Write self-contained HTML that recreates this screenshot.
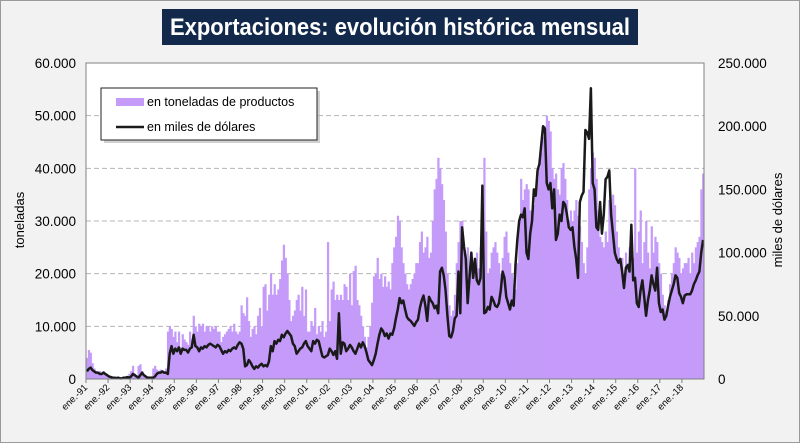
<!DOCTYPE html>
<html><head><meta charset="utf-8">
<style>
html,body{margin:0;padding:0;background:#f2f2f2;}
svg{display:block;font-family:"Liberation Sans",sans-serif;}
</style></head>
<body>
<svg id="chart" width="800" height="443" viewBox="0 0 800 443">
<rect x="0.5" y="0.5" width="799" height="442" fill="#f2f2f2" stroke="#9a9a9a"/>
<rect x="162" y="9" width="476" height="36" fill="#13294b"/>
<text x="400" y="35" text-anchor="middle" fill="#fff" font-size="24" font-weight="bold" textLength="460" lengthAdjust="spacingAndGlyphs">Exportaciones: evolución histórica mensual</text>
<rect x="86" y="63" width="618" height="316" fill="#fff"/>
<g id="grid"></g>
<g id="bars"></g>
<path id="line" fill="none" stroke="#1a1a1a" stroke-width="2.5" stroke-linejoin="round"/>
<rect x="86" y="63" width="618" height="316" fill="none" stroke="#808080"/>
<g id="axes"></g>
<text transform="translate(24,220) rotate(-90)" text-anchor="middle" font-size="13">toneladas</text>
<text transform="translate(782,220) rotate(-90)" text-anchor="middle" font-size="13">miles de dólares</text>
<g>
<rect x="104" y="91" width="216" height="52" fill="#b0b0b0" opacity="0.6"/>
<rect x="101" y="88" width="216" height="52" fill="#fff" stroke="#222"/>
<rect x="116" y="98" width="28" height="8" fill="#c59bfa"/>
<text x="147" y="106" font-size="12.5">en toneladas de productos</text>
<line x1="116" y1="127" x2="144" y2="127" stroke="#1a1a1a" stroke-width="2.5"/>
<text x="147" y="131" font-size="12.5">en miles de dólares</text>
</g>
</svg>
<script>
const startYear = 1991;
const tons = [
4,5.5,5,3,2,1.5,1,1.5,1,1.5,1,0.5,
0.5,0.3,0.3,0.3,0.5,0.3,0.3,0.2,0.5,0.3,0.5,1,
1.5,2.5,1,0.5,2.5,2.8,1.5,0.8,0.5,0.5,0.3,0.5,
2,2.5,1.8,1.5,1.8,1.5,1.5,2,9,10,9.5,8,
9,7,9,6,8.5,7.5,7,6.5,9,7.5,12,10,
9,10.5,10,10.5,9,10,10,9,10,9.5,10,9,
9,7,8,8.5,9,9.5,10,9,10.5,9,8.5,9,
14,12.5,12,15.5,11,8,9.5,10,8.5,12,13.5,10,
17.5,18,13,16,20,16,18,16,17,19,22.5,25.5,
23,20,15,11,12,13,15,16,13,17.5,12,17,
9,9,11,10,13.5,8.5,10,9,11,8,9,26,
11,17,18.5,15,16,15,16,15,18,17.5,15,20,
14,20.5,21.5,15,14,12,10,8,6,8,10,14.5,
19.5,20,23,19,20,17.5,19.5,17.5,18.5,17,22,25,
27,31,30,25,22,20,18,17,18,19,20,22,
22,26,28,24,25,27,23,24,30,36,38,42,
40,37,34,28,20,14,12,13,16,22,26,30,
30,24,22,25,21,23,20,22,24,21,25,30,
42,28,20,21,24,25,26,24,22,20,23,27,
28,24,22,20,18,17,22,30,38,34,36,37,
36,32,30,33,35,38,40,43,46,48,50,49,
47,40,38,39,36,35,40,41,38,34,30,32,
30,32,34,31,29,26,22,20,25,36,40,43,
42,38,32,27,26,25,28,26,34,30,35,33,
28,25,22,23,20,24,22,25,27,23,40,24,
28,32,22,26,30,24,21,29,24,27,26,22,
20,16,14,13,15,18,20,22,25,24,23,20,
21,22,22,23,20,24,22,25,26,27,36,39
].map(v=>v*1000);
const dollars = [
6,8,9,7,6,5,5,4,4,5,4,3,
2,1.5,1,1,0.5,1,0.5,0.5,1,1,1.5,1,
2,4,3,2,1,3,5,3,2,1,1,1,
1,2,4,5,5,6,5,5,4,20,26,20,
24,22,25,20,24,23,23,21,24,25,35,26,
25,22,25,24,26,25,27,28,27,26,25,27,
26,23,20,22,21,23,22,24,25,24,27,29,
28,24,10,11,15,13,10,8,10,9,11,12,
10,11,10,14,26,22,30,28,31,30,35,33,
36,38,36,34,28,26,20,22,24,25,28,30,
26,24,22,30,28,31,30,24,18,17,18,19,
24,22,19,22,16,52,20,29,28,22,24,27,
25,22,20,24,28,25,29,26,21,15,13,11,
15,20,28,35,40,38,34,36,32,36,35,40,
48,55,64,60,62,55,49,47,46,44,42,45,
47,56,62,66,58,46,65,62,60,56,58,52,
85,88,82,70,50,34,33,38,48,50,85,52,
120,105,95,60,80,100,80,95,78,75,80,153,
52,53,57,55,65,62,58,57,60,70,85,80,
65,60,55,62,58,90,110,125,130,128,135,100,
95,115,125,150,145,165,170,185,200,198,155,150,
155,135,150,110,115,130,125,140,138,130,120,118,
120,105,95,80,140,145,148,197,195,190,230,155,
150,120,118,140,115,130,158,160,165,130,115,100,
95,92,95,85,72,88,90,85,122,78,80,60,
57,70,78,65,50,62,70,82,75,70,88,60,
53,55,47,50,58,65,70,75,82,80,68,65,
60,66,67,67,67,70,75,78,82,85,100,110
].map(v=>v*1000);
const leftTicks = [0,10000,20000,30000,40000,50000,60000];
const leftTickLabels = ["0","10.000","20.000","30.000","40.000","50.000","60.000"];
const rightTicks = [0,50000,100000,150000,200000,250000];
const rightTickLabels = ["0","50.000","100.000","150.000","200.000","250.000"];
const yearLabels = ["ene.-91","ene.-92","ene.-93","ene.-94","ene.-95","ene.-96","ene.-97","ene.-98","ene.-99","ene.-00","ene.-01","ene.-02","ene.-03","ene.-04","ene.-05","ene.-06","ene.-07","ene.-08","ene.-09","ene.-10","ene.-11","ene.-12","ene.-13","ene.-14","ene.-15","ene.-16","ene.-17","ene.-18"];

const NS="http://www.w3.org/2000/svg";
const X0=86, X1=704, Y0=379, Y1=63;
const nMonths = tons.length;
const bw=(X1-X0)/nMonths;
const xScale = i => X0 + i*bw;
const yL = v => Y0 - v/60000*(Y0-Y1);
const yR = v => Y0 - v/250000*(Y0-Y1);
function mk(tag, attrs, parent){const e=document.createElementNS(NS,tag);for(const k in attrs)e.setAttribute(k,attrs[k]);parent.appendChild(e);return e;}
const grid=document.getElementById('grid'), bars=document.getElementById('bars'), axes=document.getElementById('axes');
leftTicks.forEach((t,i)=>{
  if(t>0 && t<60000){const g=mk('line',{x1:X0,x2:X1,y1:yL(t),y2:yL(t),stroke:'#b5b5b5','stroke-dasharray':'5,3'},grid);
  
  }
  const tx=mk('text',{x:X0-10,y:yL(t)+5,'text-anchor':'end','font-size':'13.5'},axes);
  tx.textContent=leftTickLabels[i];
  
  
});
rightTicks.forEach((t,i)=>{
  const tx=mk('text',{x:X1+14,y:yR(t)+5,'text-anchor':'start','font-size':'13.5'},axes);
  tx.textContent=rightTickLabels[i];
  
  
});
tons.forEach((v,i)=>{
  const r=mk('rect',{x:xScale(i),y:yL(v),width:bw+0.4,height:Y0-yL(v),fill:'#c59bfa'},bars);
  
  
});
let d='';
dollars.forEach((v,i)=>{d+=(i?'L':'M')+(xScale(i)+bw/2).toFixed(2)+','+yR(v).toFixed(2);});
document.getElementById('line').setAttribute('d',d);
yearLabels.forEach((lab,j)=>{
  const x=xScale(j*12);
  const tk=mk('line',{x1:x,x2:x,y1:Y0,y2:Y0+4,stroke:'#808080'},axes);
  
  
  const tx=mk('text',{x:x+2,y:Y0+9,'text-anchor':'end','font-size':'9.5',transform:`rotate(-45 ${x+2} ${Y0+9})`},axes);
  tx.textContent=lab;
  
  
});
</script>
</body></html>
